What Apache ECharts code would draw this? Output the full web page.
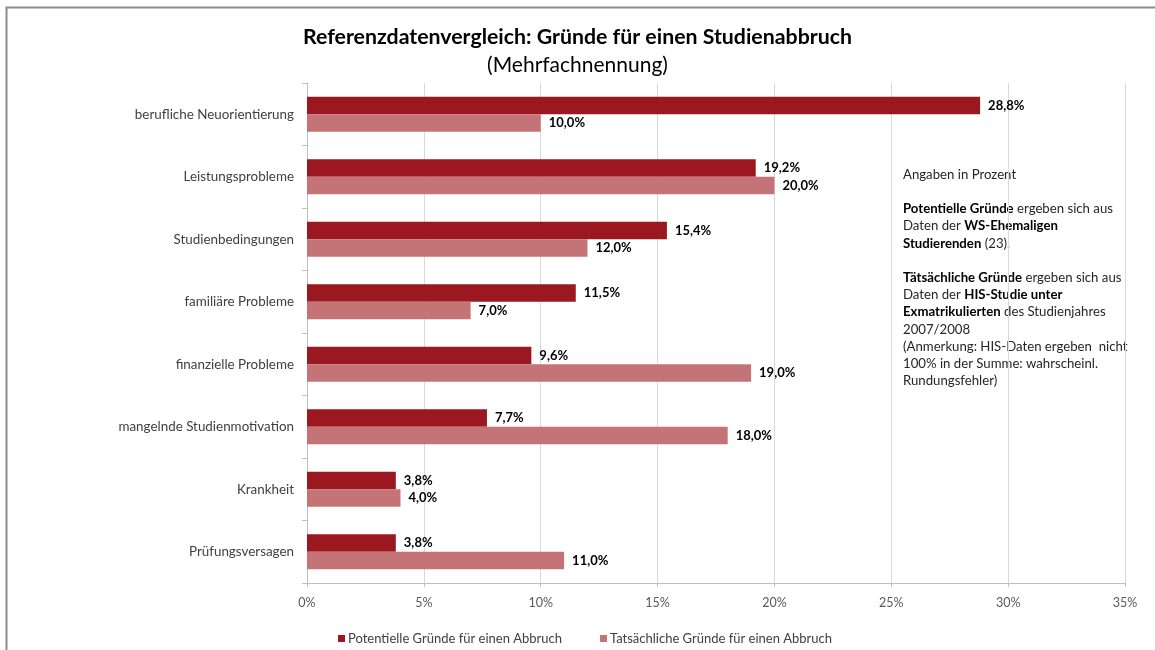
<!DOCTYPE html>
<html>
<head>
<meta charset="utf-8">
<script src="https://cdn.jsdelivr.net/npm/echarts@6/dist/echarts.min.js"></script>
<style>
html,body{margin:0;padding:0;background:#fff;}
#chart{width:1155px;height:650px;}
</style>
</head>
<body>
<div id="chart"></div>
<script>
var categories = ['berufliche Neuorientierung','Leistungsprobleme','Studienbedingungen','familiäre Probleme','finanzielle Probleme','mangelnde Studienmotivation','Krankheit','Prüfungsversagen'];
var potentielle = [28.8, 19.2, 15.4, 11.5, 9.6, 7.7, 3.8, 3.8];
var tatsaechliche = [10.0, 20.0, 12.0, 7.0, 19.0, 18.0, 4.0, 11.0];
var seriesNames = ['Potentielle Gründe für einen Abbruch','Tatsächliche Gründe für einen Abbruch'];
var xTicks = [0, 5, 10, 15, 20, 25, 30, 35];

var FONT = 'Lato, sans-serif';
var chart = echarts.init(document.getElementById('chart'), null, {renderer:'canvas'});

function fmt(v){ return v.toFixed(1).replace('.', ',') + '%'; }

var labelCfg = {
  show: true, position: 'right', distance: 8,
  fontFamily: FONT, fontSize: 13, fontWeight: 'bold', color: '#000',
  formatter: function(p){ return fmt(p.value); }
};

chart.setOption({
  animation: false,
  title: [
    {text: 'Referenzdatenvergleich: Gründe für einen Studienabbruch', left: 'center', top: 22,
     textStyle: {fontFamily: FONT, fontSize: 21.3, fontWeight: 'bold', color: '#000'}},
    {text: '(Mehrfachnennung)', left: 'center', top: 50,
     textStyle: {fontFamily: FONT, fontSize: 21, fontWeight: 'normal', color: '#000'}}
  ],
  grid: {left: 307, right: 30, top: 83, bottom: 67, containLabel: false},
  legend: {
    left: 333, top: 627, itemWidth: 7, itemHeight: 7, itemGap: 38, icon: 'rect',
    textStyle: {fontFamily: FONT, fontSize: 13, color: '#404040', padding: [0, 0, 0, -2]},
    data: seriesNames
  },
  xAxis: {
    type: 'value', min: xTicks[0], max: xTicks[xTicks.length-1], interval: 5,
    axisLine: {show: true, lineStyle: {color: '#bfbfbf'}},
    axisTick: {show: true, length: 4, lineStyle: {color: '#bfbfbf'}},
    splitLine: {show: true, lineStyle: {color: '#d9d9d9'}},
    axisLabel: {fontFamily: FONT, fontSize: 12.5, color: '#595959', margin: 13,
      formatter: function(v){ return v + '%'; }}
  },
  yAxis: {
    type: 'category', data: categories, inverse: true,
    axisLine: {show: true, lineStyle: {color: '#bfbfbf'}},
    axisTick: {show: true, length: 5, lineStyle: {color: '#bfbfbf'}},
    axisLabel: {fontFamily: FONT, fontSize: 13.4, color: '#404040', margin: 13}
  },
  series: [
    {name: seriesNames[0], type: 'bar', data: potentielle, barWidth: 17.5, barGap: '0%', barCategoryGap: '44%',
     itemStyle: {color: '#9b1820'}, label: labelCfg},
    {name: seriesNames[1], type: 'bar', data: tatsaechliche, barWidth: 17.5, barGap: '0%', barCategoryGap: '44%',
     itemStyle: {color: '#c47377'}, label: labelCfg}
  ],
  graphic: [
    {type: 'polyline', shape: {points: [[6.5, 650], [6.5, 7.5], [1155, 7.5]]},
     style: {stroke: '#8c8c8c', lineWidth: 2, fill: null}, silent: true},
    {type: 'text', left: 903, top: 166, silent: true,
     style: {
       text: [
         'Angaben in Prozent',
         '',
         '{b|Potentielle Gründe} ergeben sich aus',
         'Daten der {b|WS-Ehemaligen}',
         '{b|Studierenden} (23).',
         '',
         '{b|Tätsächliche Gründe} ergeben sich aus',
         'Daten der {b|HIS-Studie unter}',
         '{b|Exmatrikulierten} des Studienjahres',
         '2007/2008',
         '(Anmerkung: HIS-Daten ergeben  nicht',
         '100% in der Summe: wahrscheinl.',
         'Rundungsfehler)'
       ].join('\n'),
       fontFamily: FONT, fontSize: 13.2, lineHeight: 17.2, fill: '#262626',
       rich: {b: {fontFamily: FONT, fontSize: 13.2, fontWeight: 'bold', fill: '#000', lineHeight: 17.2}}
     }}
  ]
});
</script>
</body>
</html>
